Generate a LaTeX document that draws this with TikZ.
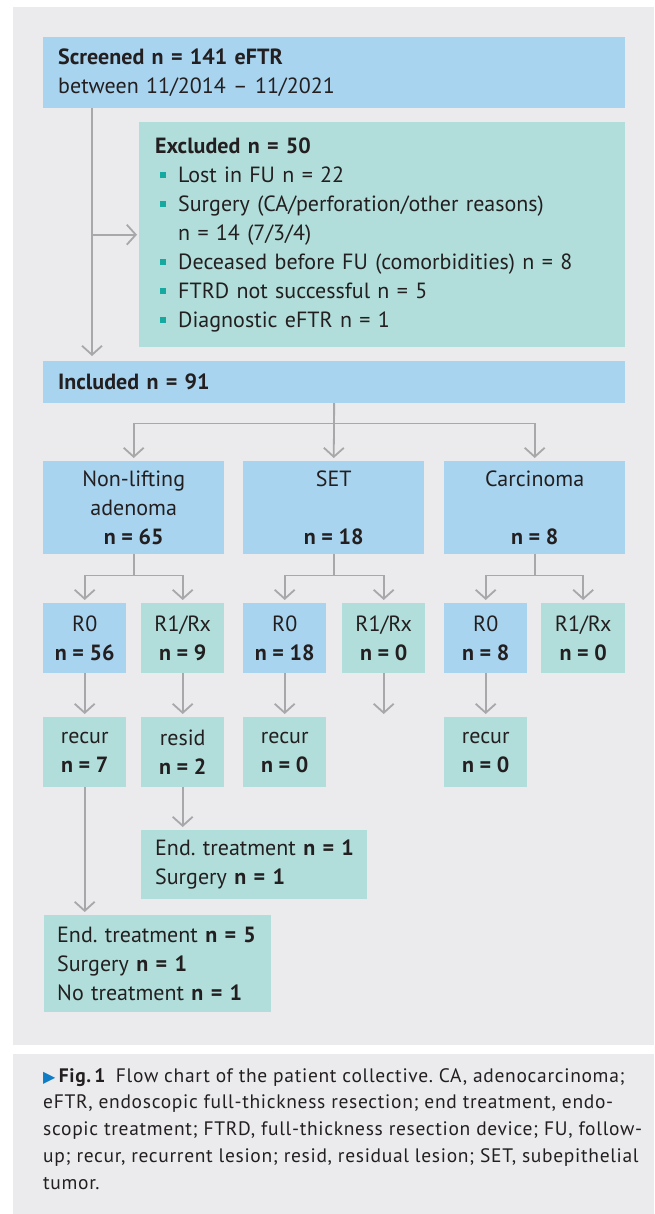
\documentclass[tikz,border=0pt]{standalone}
\usepackage{fontspec}
\setmainfont{PT Sans}
\newfontfamily\capfont[LetterSpace=3.5]{PT Sans}
\newfontfamily\symfont{DejaVu Sans}
\usetikzlibrary{arrows.meta}
\definecolor{panel-grey}{HTML}{EBEBED}
\definecolor{box-blue}{HTML}{A8D4EF}
\definecolor{box-teal}{HTML}{B1DEDA}
\definecolor{link-grey}{HTML}{A8A8AB}
\definecolor{bullet-teal}{HTML}{16A99F}
\definecolor{fig-blue}{HTML}{0E7DC6}
\definecolor{ink}{HTML}{231F20}
\newcommand{\sqbul}[1]{\makebox[23pt][l]{\hspace{5pt}\textcolor{bullet-teal}{\rule[4pt]{6pt}{6pt}}}#1}
\AtBeginDocument{\frenchspacing}

\tikzset{
  box/.style={anchor=north west, inner sep=0pt, text=ink,
              font=\fontsize{22}{29}\selectfont},
  bluebox/.style={box, fill=box-blue},
  tealbox/.style={box, fill=box-teal},
  link/.style={draw=link-grey, line width=1.8pt, shorten >=3pt,
               -{Straight Barb[length=9pt,width=20pt,line width=1.8pt]}},
}

\begin{document}
\begin{tikzpicture}[x=1pt, y=-1pt]
  \useasboundingbox (0,0) rectangle (654,1214);
  % grey panels
  \fill[panel-grey] (13,7) rectangle (654,1045);
  \fill[panel-grey] (13,1054) rectangle (654,1214);

  % screening and exclusion
  \node[bluebox, minimum width=582pt, minimum height=71pt, text width=552pt,
        align=left] (screen) at (43,37)
        {\textbf{Screened n = 141 eFTR}\\between 11/2014 – 11/2021};
  \node[tealbox, minimum width=486pt, minimum height=225pt, text width=454pt,
        align=left] (excl) at (139,122)
        {\textbf{Excluded n = 50}\\
         \sqbul{Lost in FU n = 22}\\
         \sqbul{Surgery (CA/perforation/other reasons)}\\
         \hspace*{23pt}n = 14 (7/3/4)\\
         \sqbul{Deceased before FU (comorbidities) n = 8}\\
         \sqbul{FTRD not successful n = 5}\\
         \sqbul{Diagnostic eFTR n = 1}};
  \node[bluebox, minimum width=582pt, minimum height=42pt, text width=552pt,
        align=left] (incl) at (43,361) {\textbf{Included n = 91}};

  % lesion groups
  \node[bluebox, minimum width=181pt, minimum height=93pt, align=center] (nla) at (43,461)
        {Non-lifting\\adenoma\\\textbf{n = 65}};
  \node[bluebox, minimum width=181pt, minimum height=93pt, align=center] (set) at (243,461)
        {SET\\\mbox{}\\\textbf{n = 18}};
  \node[bluebox, minimum width=181pt, minimum height=93pt, align=center] (carc) at (444,461)
        {Carcinoma\\\mbox{}\\\textbf{n = 8}};

  % resection status
  \node[bluebox, minimum width=83pt, minimum height=70pt, align=center] (nla-r0) at (43,603)
        {R0\\\textbf{n = 56}};
  \node[tealbox, minimum width=83pt, minimum height=70pt, align=center] (nla-r1) at (141,603)
        {R1/Rx\\\textbf{n = 9}};
  \node[bluebox, minimum width=83pt, minimum height=70pt, align=center] (set-r0) at (243,603)
        {R0\\\textbf{n = 18}};
  \node[tealbox, minimum width=83pt, minimum height=70pt, align=center] (set-r1) at (342,603)
        {R1/Rx\\\textbf{n = 0}};
  \node[bluebox, minimum width=83pt, minimum height=70pt, align=center] (carc-r0) at (444,603)
        {R0\\\textbf{n = 8}};
  \node[tealbox, minimum width=84pt, minimum height=70pt, align=center] (carc-r1) at (541,603)
        {R1/Rx\\\textbf{n = 0}};

  % follow-up
  \node[tealbox, minimum width=83pt, minimum height=70pt, align=center] (nla-recur) at (43,717)
        {recur\\\textbf{n = 7}};
  \node[tealbox, minimum width=83pt, minimum height=70pt, align=center] (nla-resid) at (141,717)
        {resid\\\textbf{n = 2}};
  \node[tealbox, minimum width=83pt, minimum height=70pt, align=center] (set-recur) at (243,717)
        {recur\\\textbf{n = 0}};
  \node[tealbox, minimum width=83pt, minimum height=70pt, align=center] (carc-recur) at (444,717)
        {recur\\\textbf{n = 0}};

  % treatment
  \node[tealbox, minimum width=226pt, minimum height=69pt, text width=198pt,
        align=left] (resid-tx) at (141,830)
        {\mbox{End. treatment \textbf{n = 1}}\\Surgery \textbf{n = 1}};
  \node[tealbox, minimum width=227pt, minimum height=97pt, text width=201pt,
        align=left] (recur-tx) at (44,915)
        {\mbox{End. treatment \textbf{n = 5}}\\Surgery \textbf{n = 1}\\No treatment \textbf{n = 1}};

  % connectors
  \coordinate (trunk) at ([xshift=49pt]screen.south west);
  \coordinate (set-r1-end) at (set-r1.south |- set-recur.north);
  \draw[link, shorten >=5pt] (trunk) -- (trunk |- incl.north);
  \draw[link, shorten >=2pt] (trunk |- excl.west) -- (excl.west);
  \draw[link] (incl.south) -- ++(0,20) -| (nla.north);
  \draw[link] (incl.south) -- (set.north);
  \draw[link] (incl.south) -- ++(0,20) -| (carc.north);
  \draw[link] (nla.south) -- ++(0,21) -| (nla-r0.north);
  \draw[link] (nla.south) -- ++(0,21) -| (nla-r1.north);
  \draw[link] (set.south) -- ++(0,21) -| (set-r0.north);
  \draw[link] (set.south) -- ++(0,21) -| (set-r1.north);
  \draw[link] (carc.south) -- ++(0,21) -| (carc-r0.north);
  \draw[link] (carc.south) -- ++(0,21) -| (carc-r1.north);
  \draw[link] (nla-r0.south) -- (nla-recur.north);
  \draw[link] (nla-r1.south) -- (nla-resid.north);
  \draw[link] (set-r0.south) -- (set-recur.north);
  \draw[link] (set-r1.south) -- (set-r1-end);
  \draw[link] (carc-r0.south) -- (carc-recur.north);
  \draw[link] (nla-resid.south) -- (nla-resid.south |- resid-tx.north);
  \draw[link] (nla-recur.south) -- (nla-recur.south |- recur-tx.north);

  % caption
  \node[anchor=north west, inner sep=0pt, align=left, text=ink,
        font=\capfont\fontsize{19.5}{26.8}\selectfont] (caption) at (43,1068)
        {{\color{fig-blue}\symfont\fontsize{16}{16}\selectfont ▶}\,\textbf{Fig.\,1}\enspace Flow chart of the patient collective. CA, adenocarcinoma;\\
         eFTR, endoscopic full-thickness resection; end treatment, endo-\\
         scopic treatment; FTRD, full-thickness resection device; FU, follow-\\
         up; recur, recurrent lesion; resid, residual lesion; SET, subepithelial\\
         tumor.};
\end{tikzpicture}
\end{document}
